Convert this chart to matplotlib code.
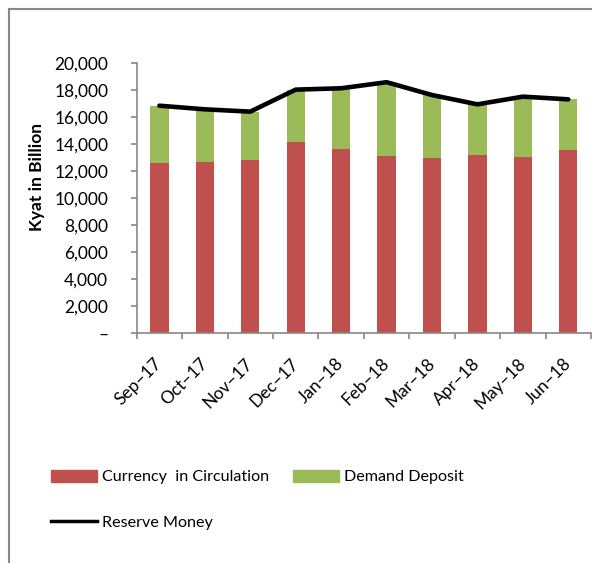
import matplotlib
matplotlib.use("Agg")
import matplotlib.pyplot as plt
from matplotlib.lines import Line2D
from matplotlib.patches import Patch
import numpy as np

months = ["Sep–17", "Oct–17", "Nov–17", "Dec–17", "Jan–18", "Feb–18",
          "Mar–18", "Apr–18", "May–18", "Jun–18"]
currency = [12640, 12690, 12860, 14150, 13650, 13160, 13010, 13210, 13060, 13600]
reserve = [16860, 16590, 16420, 18050, 18150, 18600, 17650, 16960, 17530, 17330]
demand = [r - c for r, c in zip(reserve, currency)]
yticks = [0, 2000, 4000, 6000, 8000, 10000, 12000, 14000, 16000, 18000, 20000]

plt.rcParams['font.family'] = ['Lato', 'DejaVu Sans']

W, H = 592, 563
fig = plt.figure(figsize=(W / 100, H / 100), dpi=100)
ax = fig.add_axes([136.7 / W, (H - 333.3) / H, 454.3 / W, 270 / H])

x = np.arange(len(months))
red = "#C0504D"
green = "#9BBB59"
ax.bar(x, currency, width=0.4, color=red, zorder=2)
ax.bar(x, demand, width=0.4, bottom=currency, color=green, zorder=2)
ax.plot(x, reserve, color="black", linewidth=3.3, solid_capstyle="round", zorder=3)

ax.set_xlim(-0.5, 9.5)
ax.set_ylim(0, 20000)
ax.set_yticks(yticks)
ax.set_yticklabels(["–" if v == 0 else f"{v:,}" for v in yticks], fontsize=12.5)
ax.set_xticks(x)
ax.set_xticklabels(months, rotation=45, ha="right", va="center",
                   rotation_mode="anchor", fontsize=12.5)
ax.set_xticks(np.arange(-0.5, 10.0, 1.0), minor=True)
ax.tick_params(axis="x", which="major", length=0, pad=20)
ax.tick_params(axis="x", which="minor", length=4.5, color="#888888", width=1.2)
ax.tick_params(axis="y", length=4.5, color="#888888", width=1.2, pad=16)

for s in ["top", "right"]:
    ax.spines[s].set_visible(False)
for s in ["left", "bottom"]:
    ax.spines[s].set_color("#888888")
    ax.spines[s].set_linewidth(1.2)

fig.text(37 / W, 1 - 177 / H, "Kyat in Billion", rotation=90, ha="center",
         va="center", fontsize=12.5, fontweight="bold")

handles = [Patch(color=red), Line2D([], [], color="black", linewidth=2.5),
           Patch(color=green)]
labels = ["Currency  in Circulation", "Reserve Money", "Demand Deposit"]
fig.legend(handles, labels, ncol=2, loc="upper left",
           bbox_to_anchor=(36 / W, 1 - 455 / H), frameon=False, fontsize=11.6,
           handlelength=2.9, handleheight=0.8, handletextpad=0.3,
           columnspacing=1.45, labelspacing=1.9)

# outer frame (top and left gray lines)
fig.add_artist(Line2D([8.5 / W, 8.5 / W], [0, 1 - 9 / H], color="#888888",
                      linewidth=1.5, transform=fig.transFigure))
fig.add_artist(Line2D([8.5 / W, 1], [1 - 9 / H, 1 - 9 / H], color="#888888",
                      linewidth=1.5, transform=fig.transFigure))

fig.savefig("out.png", dpi=100)
